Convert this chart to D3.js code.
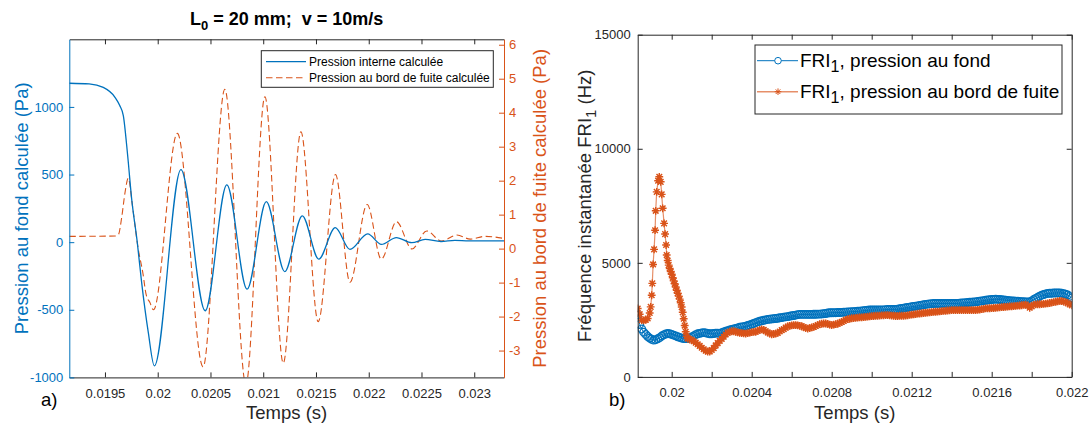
<!DOCTYPE html>
<html><head><meta charset="utf-8">
<script src="https://cdn.jsdelivr.net/npm/d3@7"></script>
<style>
html,body{margin:0;padding:0;background:#fff;}
svg{display:block;font-family:"Liberation Sans",Arial,Helvetica,sans-serif;}
text{white-space:pre;}
</style></head><body>
<svg id="chart" width="1090" height="425"></svg>
<script>
// ---------- Panel a) : pressures vs time ----------
const pIntT = [0.019162,0.01935,0.019484,0.019595,0.01964,0.019674,0.019714,0.019753,0.019806,0.019848,0.019911,0.019968,
  0.02022,0.02045,0.020655,0.020847,0.021029,0.021204,0.02137,0.021526,0.021683,0.021822,0.02199,0.02212,0.022262,
  0.022408,0.022535,0.022685,0.022816,0.02295,0.023282];
const pIntV = [1175,1170,1144,1071,1010,936,650,320,0,-301,-669,-915,
  537,-507,424,-348,300,-218,195,-125,108,-54,61,-17,34,
  -4,20,5,13,9,10];
const pBordT = [0.019162,0.0196,0.019626,0.01966,0.01969,0.019721,0.019763,0.019812,0.019861,0.01989,0.019925,0.01996,
  0.020186,0.02043,0.020636,0.020836,0.021016,0.02119,0.021357,0.021521,0.021685,0.021822,0.021985,0.022119,0.022263,
  0.02241,0.02255,0.02269,0.022836,0.022962,0.0231,0.023282];
const pBordV = [0.36,0.37,0.40,0.95,1.65,2.07,1.2,0.05,-0.75,-1.35,-1.58,-1.8,
  3.39,-3.48,4.69,-4.0,4.47,-3.37,3.44,-2.15,2.18,-0.99,1.3,-0.31,0.79,
  -0.01,0.52,0.22,0.4,0.28,0.36,0.3];
const aXTicks = [0.0195,0.02,0.0205,0.021,0.0215,0.022,0.0225,0.023];
const aXTickLabels = ["0.0195","0.02","0.0205","0.021","0.0215","0.022","0.0225","0.023"];
const aYLeftTicks = [-1000,-500,0,500,1000];
const aYRightTicks = [-3,-2,-1,0,1,2,3,4,5,6];
const aLegend = ["Pression interne calculée","Pression au bord de fuite calculée"];

// ---------- Panel b) : instantaneous frequency ----------
const friFondT = [
0.01983,0.01984,0.01985,0.01986,0.01987,0.01988,0.01989,
0.0199,0.01991,0.01992,0.01993,0.01994,0.01995,0.01996,0.01997,0.01998,0.01999,
0.02,0.02001,0.02002,0.02003,0.02004,0.02005,0.02006,0.02007,0.02008,0.02009,
0.0201,0.02011,0.02012,0.02013,0.02014,0.02015,0.02016,0.02017,0.02018,0.02019,
0.0202,0.02021,0.02022,0.02023,0.02024,0.02025,0.02026,0.02027,0.02028,0.02029,
0.0203,0.02031,0.02032,0.02033,0.02034,0.02035,0.02036,0.02037,0.02038,0.02039,
0.0204,0.02041,0.02042,0.02043,0.02044,0.02045,0.02046,0.02047,0.02048,0.02049,
0.0205,0.02051,0.02052,0.02053,0.02054,0.02055,0.02056,0.02057,0.02058,0.02059,
0.0206,0.02061,0.02062,0.02063,0.02064,0.02065,0.02066,0.02067,0.02068,0.02069,
0.0207,0.02071,0.02072,0.02073,0.02074,0.02075,0.02076,0.02077,0.02078,0.02079,
0.0208,0.02081,0.02082,0.02083,0.02084,0.02085,0.02086,0.02087,0.02088,0.02089,
0.0209,0.02091,0.02092,0.02093,0.02094,0.02095,0.02096,0.02097,0.02098,0.02099,
0.021,0.02101,0.02102,0.02103,0.02104,0.02105,0.02106,0.02107,0.02108,0.02109,
0.0211,0.02111,0.02112,0.02113,0.02114,0.02115,0.02116,0.02117,0.02118,0.02119,
0.0212,0.02121,0.02122,0.02123,0.02124,0.02125,0.02126,0.02127,0.02128,0.02129,
0.0213,0.02131,0.02132,0.02133,0.02134,0.02135,0.02136,0.02137,0.02138,0.02139,
0.0214,0.02141,0.02142,0.02143,0.02144,0.02145,0.02146,0.02147,0.02148,0.02149,
0.0215,0.02151,0.02152,0.02153,0.02154,0.02155,0.02156,0.02157,0.02158,0.02159,
0.0216,0.02161,0.02162,0.02163,0.02164,0.02165,0.02166,0.02167,0.02168,0.02169,
0.0217,0.02171,0.02172,0.02173,0.02174,0.02175,0.02176,0.02177,0.02178,0.02179,
0.0218,0.02181,0.02182,0.02183,0.02184,0.02185,0.02186,0.02187,0.02188,0.02189,
0.0219,0.02191,0.02192,0.02193,0.02194,0.02195,0.02196,0.02197,0.02198,0.02199,
0.022];
const friFondF = [
2720,2300,2100,1960,1860,1770,1700,
1650,1610,1630,1670,1720,1790,1840,1880,1900,1890,
1860,1830,1800,1760,1730,1700,1680,1680,1680,1710,
1750,1800,1850,1890,1910,1930,1940,1930,1910,1890,
1890,1900,1920,1920,1910,1940,1970,2000,2030,2060,
2080,2100,2120,2150,2180,2190,2200,2220,2250,2280,
2310,2340,2380,2410,2440,2460,2480,2500,2520,2530,
2540,2550,2560,2570,2590,2600,2620,2630,2640,2660,
2680,2690,2710,2730,2740,2740,2740,2740,2740,2740,
2740,2745,2745,2750,2750,2760,2770,2780,2800,2810,
2810,2815,2815,2820,2820,2830,2835,2840,2845,2850,
2855,2860,2870,2875,2880,2890,2900,2910,2920,2930,
2930,2930,2930,2930,2930,2935,2940,2950,2955,2960,
2960,2960,2960,2970,2985,3000,3015,3030,3045,3060,
3075,3090,3100,3115,3130,3145,3160,3180,3190,3200,
3210,3215,3220,3220,3220,3220,3220,3220,3220,3220,
3220,3220,3220,3225,3230,3240,3245,3250,3260,3270,
3275,3285,3290,3305,3320,3330,3345,3360,3370,3380,
3390,3400,3410,3400,3390,3380,3370,3360,3350,3340,
3330,3325,3320,3315,3310,3300,3295,3290,3290,3290,
3330,3390,3440,3490,3540,3580,3610,3640,3660,3665,
3670,3675,3680,3680,3680,3670,3650,3630,3590,3530,
3460];
const friBordT = [
0.01983,0.01984,0.01985,0.01986,0.01987,0.01988,0.01989,
0.019895,0.0199,0.019903,0.019907,0.019912,0.019917,0.01992,0.019925,0.019932,0.019938,0.019945,0.01995,0.019955,0.019962,0.019967,0.019972,0.019975,
0.01998,0.019985,0.01999,0.019995,0.02,0.020005,0.02001,0.020015,0.02002,0.020025,0.02003,0.020035,0.02004,0.020045,0.02005,0.020055,0.02006,0.020065,0.02007,0.020075,0.02008,
0.02009,
0.0201,0.02011,0.02012,0.02013,0.02014,0.02015,0.02016,0.02017,0.02018,0.02019,
0.0202,0.02021,0.02022,0.02023,0.02024,0.02025,0.02026,0.02027,0.02028,0.02029,
0.0203,0.02031,0.02032,0.02033,0.02034,0.02035,0.02036,0.02037,0.02038,0.02039,
0.0204,0.02041,0.02042,0.02043,0.02044,0.02045,0.02046,0.02047,0.02048,0.02049,
0.0205,0.02051,0.02052,0.02053,0.02054,0.02055,0.02056,0.02057,0.02058,0.02059,
0.0206,0.02061,0.02062,0.02063,0.02064,0.02065,0.02066,0.02067,0.02068,0.02069,
0.0207,0.02071,0.02072,0.02073,0.02074,0.02075,0.02076,0.02077,0.02078,0.02079,
0.0208,0.02081,0.02082,0.02083,0.02084,0.02085,0.02086,0.02087,0.02088,0.02089,
0.0209,0.02091,0.02092,0.02093,0.02094,0.02095,0.02096,0.02097,0.02098,0.02099,
0.021,0.02101,0.02102,0.02103,0.02104,0.02105,0.02106,0.02107,0.02108,0.02109,
0.0211,0.02111,0.02112,0.02113,0.02114,0.02115,0.02116,0.02117,0.02118,0.02119,
0.0212,0.02121,0.02122,0.02123,0.02124,0.02125,0.02126,0.02127,0.02128,0.02129,
0.0213,0.02131,0.02132,0.02133,0.02134,0.02135,0.02136,0.02137,0.02138,0.02139,
0.0214,0.02141,0.02142,0.02143,0.02144,0.02145,0.02146,0.02147,0.02148,0.02149,
0.0215,0.02151,0.02152,0.02153,0.02154,0.02155,0.02156,0.02157,0.02158,0.02159,
0.0216,0.02161,0.02162,0.02163,0.02164,0.02165,0.02166,0.02167,0.02168,0.02169,
0.0217,0.02171,0.02172,0.02173,0.02174,0.02175,0.02176,0.02177,0.02178,0.02179,
0.0218,0.02181,0.02182,0.02183,0.02184,0.02185,0.02186,0.02187,0.02188,0.02189,
0.0219,0.02191,0.02192,0.02193,0.02194,0.02195,0.02196,0.02197,0.02198,0.02199,
0.022];
const friBordF = [
3000,2750,2490,2480,2500,2560,2800,
3070,3580,4100,4930,5590,6430,7280,8110,8600,8770,8550,8000,7390,6730,6260,5780,5340,
5100,4900,4750,4620,4500,4350,4210,4080,3940,3800,3670,3540,3410,3250,3060,2830,2550,2250,1980,1780,1680,
1650,
1610,1560,1500,1430,1360,1280,1210,1150,1110,1110,
1180,1260,1380,1480,1580,1660,1760,1860,1940,1980,
2000,2000,1980,1950,1930,1920,1910,1900,1920,1940,
1960,1970,1980,2020,2060,2080,2060,2000,1950,1900,
1870,1880,1900,1930,1990,2050,2090,2160,2210,2240,
2260,2270,2270,2260,2240,2220,2180,2140,2120,2140,
2170,2190,2230,2270,2310,2330,2340,2340,2320,2290,
2270,2290,2310,2330,2370,2410,2450,2500,2530,2550,
2570,2580,2590,2600,2610,2610,2620,2630,2640,2650,
2660,2670,2680,2680,2690,2700,2700,2710,2710,2700,
2690,2680,2670,2670,2680,2680,2680,2690,2700,2720,
2730,2740,2750,2770,2780,2790,2800,2810,2820,2830,
2840,2850,2855,2860,2870,2880,2890,2900,2910,2920,
2925,2930,2930,2930,2930,2930,2930,2930,2930,2930,
2930,2930,2930,2940,2950,2970,2985,3000,3005,3010,
3015,3020,3030,3040,3045,3055,3065,3070,3080,3090,
3095,3105,3110,3120,3130,3140,3155,3170,3120,3030,
3090,3160,3180,3185,3185,3190,3200,3210,3220,3240,
3260,3280,3295,3310,3330,3320,3300,3270,3230,3180,
3140];
const bXTicks = [0.02,0.0202,0.0204,0.0206,0.0208,0.021,0.0212,0.0214,0.0216,0.0218,0.022];
const bXTickLabels = ["0.02","","0.0204","","0.0208","","0.0212","","0.0216","","0.022"];
const bYTicks = [0,5000,10000,15000];
const bLegend = ["pression au fond","pression au bord de fuite"];

// ---------- drawing ----------
const BLUE = "#0072BD", ORANGE = "#D95319", AX = "#262626";
const FONT = '"Liberation Sans",Arial,Helvetica,sans-serif';
const svg = d3.select("#chart");
const plain = d => String(d);   // MATLAB style: ASCII hyphen for negatives

function styleAxis(g, color, fs){
  g.attr("font-family", FONT).attr("font-size", fs || 13);
  g.select(".domain").attr("stroke", color).attr("stroke-width", 1);
  g.selectAll(".tick line").attr("stroke", color).attr("stroke-width", 1);
  g.selectAll(".tick text").attr("fill", color);
}

// ===== Panel a =====
const A = {x0: 69.3, x1: 504, y0: 39.3, y1: 377.4};
const xA = d3.scaleLinear().domain([0.019162, 0.023282]).range([A.x0, A.x1]);
const yAL = d3.scaleLinear().domain([-1000, 1500]).range([A.y1, A.y0]);
const yAR = d3.scaleLinear().domain([-3.79, 6.16]).range([A.y1, A.y0]);

svg.append("clipPath").attr("id", "clipA").append("rect")
  .attr("x", A.x0).attr("y", A.y0).attr("width", A.x1 - A.x0).attr("height", A.y1 - A.y0);

const gA = svg.append("g").attr("clip-path", "url(#clipA)");
gA.append("path").datum(d3.zip(pBordT, pBordV))
  .attr("fill", "none").attr("stroke", ORANGE).attr("stroke-width", 1.1)
  .attr("stroke-dasharray", "6.5,3.5")
  .attr("d", d3.line().x(d => xA(d[0])).y(d => yAR(d[1])).curve(d3.curveMonotoneX));
gA.append("path").datum(d3.zip(pIntT, pIntV))
  .attr("fill", "none").attr("stroke", BLUE).attr("stroke-width", 1.3)
  .attr("d", d3.line().x(d => xA(d[0])).y(d => yAL(d[1])).curve(d3.curveMonotoneX));

// axes a
svg.append("g").attr("transform", `translate(0,${A.y1})`)
  .call(d3.axisBottom(xA).tickValues(aXTicks).tickFormat((d, i) => aXTickLabels[i]).tickSizeInner(-5).tickSizeOuter(0).tickPadding(11))
  .call(g => styleAxis(g, AX));
svg.append("g").attr("transform", `translate(0,${A.y0})`)
  .call(d3.axisTop(xA).tickValues(aXTicks).tickFormat("").tickSizeInner(-5).tickSizeOuter(0))
  .call(g => styleAxis(g, AX));
svg.append("g").attr("transform", `translate(${A.x0},0)`)
  .call(d3.axisLeft(yAL).tickValues(aYLeftTicks).tickFormat(plain).tickSizeInner(-5).tickSizeOuter(0).tickPadding(6))
  .call(g => styleAxis(g, BLUE));
svg.append("g").attr("transform", `translate(${A.x1},0)`)
  .call(d3.axisRight(yAR).tickValues(aYRightTicks).tickFormat(plain).tickSizeInner(-5).tickSizeOuter(0).tickPadding(5))
  .call(g => styleAxis(g, ORANGE));

// title a
const ttl = svg.append("text").attr("x", (A.x0 + A.x1) / 2).attr("y", 25)
  .attr("text-anchor", "middle").attr("font-weight", "bold").attr("font-size", 18).attr("fill", "#000");
ttl.append("tspan").text("L");
ttl.append("tspan").attr("font-size", 13).attr("dy", 5).text("0");
ttl.append("tspan").attr("dy", -5).text(" = 20 mm;  v = 10m/s");

// labels a
svg.append("text").attr("transform", `translate(28,${(A.y0 + A.y1) / 2}) rotate(-90)`)
  .attr("text-anchor", "middle").attr("font-size", 18.5).attr("fill", BLUE)
  .text("Pression au fond calculée (Pa)");
svg.append("text").attr("transform", `translate(546,${(A.y0 + A.y1) / 2}) rotate(-90)`)
  .attr("text-anchor", "middle").attr("font-size", 18.5).attr("fill", ORANGE)
  .text("Pression au bord de fuite calculée (Pa)");
svg.append("text").attr("x", (A.x0 + A.x1) / 2).attr("y", 419)
  .attr("text-anchor", "middle").attr("font-size", 18.5).attr("fill", AX).text("Temps (s)");
svg.append("text").attr("x", 41).attr("y", 406).attr("font-size", 18.5).attr("fill", "#000").text("a)");

// legend a
const lgA = svg.append("g");
lgA.append("rect").attr("x", 261.3).attr("y", 50.7).attr("width", 232).attr("height", 36.6)
  .attr("fill", "#fff").attr("stroke", AX).attr("stroke-width", 1);
lgA.append("line").attr("x1", 266).attr("x2", 306).attr("y1", 61.7).attr("y2", 61.7)
  .attr("stroke", BLUE).attr("stroke-width", 1.3);
lgA.append("line").attr("x1", 266).attr("x2", 306).attr("y1", 77.7).attr("y2", 77.7)
  .attr("stroke", ORANGE).attr("stroke-width", 1.1).attr("stroke-dasharray", "6.5,3.5");
aLegend.forEach((s, i) => {
  lgA.append("text").attr("x", 309).attr("y", 61.7 + 16 * i + 4.3)
    .attr("font-size", 12).attr("fill", "#000").text(s);
});

// ===== Panel b =====
const B = {x0: 637.7, x1: 1071.7, y0: 34.7, y1: 376.9};
const xB = d3.scaleLinear().domain([0.01983, 0.022]).range([B.x0, B.x1]);
const yB = d3.scaleLinear().domain([0, 15000]).range([B.y1, B.y0]);

svg.append("clipPath").attr("id", "clipB").append("rect")
  .attr("x", B.x0).attr("y", B.y0).attr("width", B.x1 - B.x0).attr("height", B.y1 - B.y0);
const gB = svg.append("g").attr("clip-path", "url(#clipB)");

const fond = d3.zip(friFondT, friFondF);
const bord = d3.zip(friBordT, friBordF);
const lineB = d3.line().x(d => xB(d[0])).y(d => yB(d[1]));

gB.append("path").datum(fond).attr("fill", "none").attr("stroke", BLUE).attr("stroke-width", 1).attr("d", lineB);
gB.append("g").selectAll("circle").data(fond).join("circle")
  .attr("cx", d => xB(d[0])).attr("cy", d => yB(d[1])).attr("r", 3.8)
  .attr("fill", "none").attr("stroke", BLUE).attr("stroke-width", 1.3);

const STAR = "M-3.9,0H3.9M0,-3.9V3.9M-2.8,-2.8L2.8,2.8M-2.8,2.8L2.8,-2.8";
gB.append("path").datum(bord).attr("fill", "none").attr("stroke", ORANGE).attr("stroke-opacity", 0.65)
  .attr("stroke-width", 1.2).attr("d", lineB);
gB.append("g").selectAll("path").data(bord).join("path")
  .attr("transform", d => `translate(${xB(d[0])},${yB(d[1])})`).attr("d", STAR)
  .attr("fill", "none").attr("stroke", ORANGE).attr("stroke-width", 1.45);

// axes b
svg.append("g").attr("transform", `translate(0,${B.y1})`)
  .call(d3.axisBottom(xB).tickValues(bXTicks).tickFormat((d, i) => bXTickLabels[i]).tickSizeInner(-5).tickSizeOuter(0).tickPadding(11))
  .call(g => styleAxis(g, AX));
svg.append("g").attr("transform", `translate(0,${B.y0})`)
  .call(d3.axisTop(xB).tickValues(bXTicks).tickFormat("").tickSizeInner(-5).tickSizeOuter(0))
  .call(g => styleAxis(g, AX));
svg.append("g").attr("transform", `translate(${B.x0},0)`)
  .call(d3.axisLeft(yB).tickValues(bYTicks).tickFormat(plain).tickSizeInner(-5).tickSizeOuter(0).tickPadding(7))
  .call(g => styleAxis(g, AX));
svg.append("g").attr("transform", `translate(${B.x1},0)`)
  .call(d3.axisRight(yB).tickValues(bYTicks).tickFormat("").tickSizeInner(-5).tickSizeOuter(0))
  .call(g => styleAxis(g, AX));

// labels b
const ylb = svg.append("text").attr("transform", `translate(591,${(B.y0 + B.y1) / 2}) rotate(-90)`)
  .attr("text-anchor", "middle").attr("font-size", 18.5).attr("fill", AX);
ylb.append("tspan").text("Fréquence instantanée FRI");
ylb.append("tspan").attr("font-size", 15).attr("dy", 5).text("1");
ylb.append("tspan").attr("dy", -5).text(" (Hz)");
svg.append("text").attr("x", (B.x0 + B.x1) / 2).attr("y", 419)
  .attr("text-anchor", "middle").attr("font-size", 18.5).attr("fill", AX).text("Temps (s)");
svg.append("text").attr("x", 609).attr("y", 406).attr("font-size", 18.5).attr("fill", "#000").text("b)");

// legend b
const lgB = svg.append("g");
lgB.append("rect").attr("x", 755).attr("y", 45).attr("width", 307).attr("height", 69)
  .attr("fill", "#fff").attr("stroke", AX).attr("stroke-width", 1);
const rowsY = [60.7, 91.7];
lgB.append("line").attr("x1", 757).attr("x2", 798).attr("y1", rowsY[0]).attr("y2", rowsY[0])
  .attr("stroke", BLUE).attr("stroke-width", 1);
lgB.append("circle").attr("cx", 778).attr("cy", rowsY[0]).attr("r", 3.3)
  .attr("fill", "#fff").attr("stroke", BLUE).attr("stroke-width", 1);
lgB.append("line").attr("x1", 757).attr("x2", 798).attr("y1", rowsY[1]).attr("y2", rowsY[1])
  .attr("stroke", ORANGE).attr("stroke-opacity", 0.65).attr("stroke-width", 1.4);
lgB.append("path").attr("transform", `translate(778,${rowsY[1]})`).attr("d", "M-3.3,0H3.3M0,-3.3V3.3M-2.3,-2.3L2.3,2.3M-2.3,2.3L2.3,-2.3")
  .attr("fill", "none").attr("stroke", ORANGE).attr("stroke-width", 1);
bLegend.forEach((s, i) => {
  const t = lgB.append("text").attr("x", 800).attr("y", rowsY[i] + 6.5).attr("font-size", 19).attr("fill", "#000");
  t.append("tspan").text("FRI");
  t.append("tspan").attr("font-size", 16).attr("dy", 5).text("1");
  t.append("tspan").attr("dy", -5).text(", " + s);
});
</script>
</body></html>
